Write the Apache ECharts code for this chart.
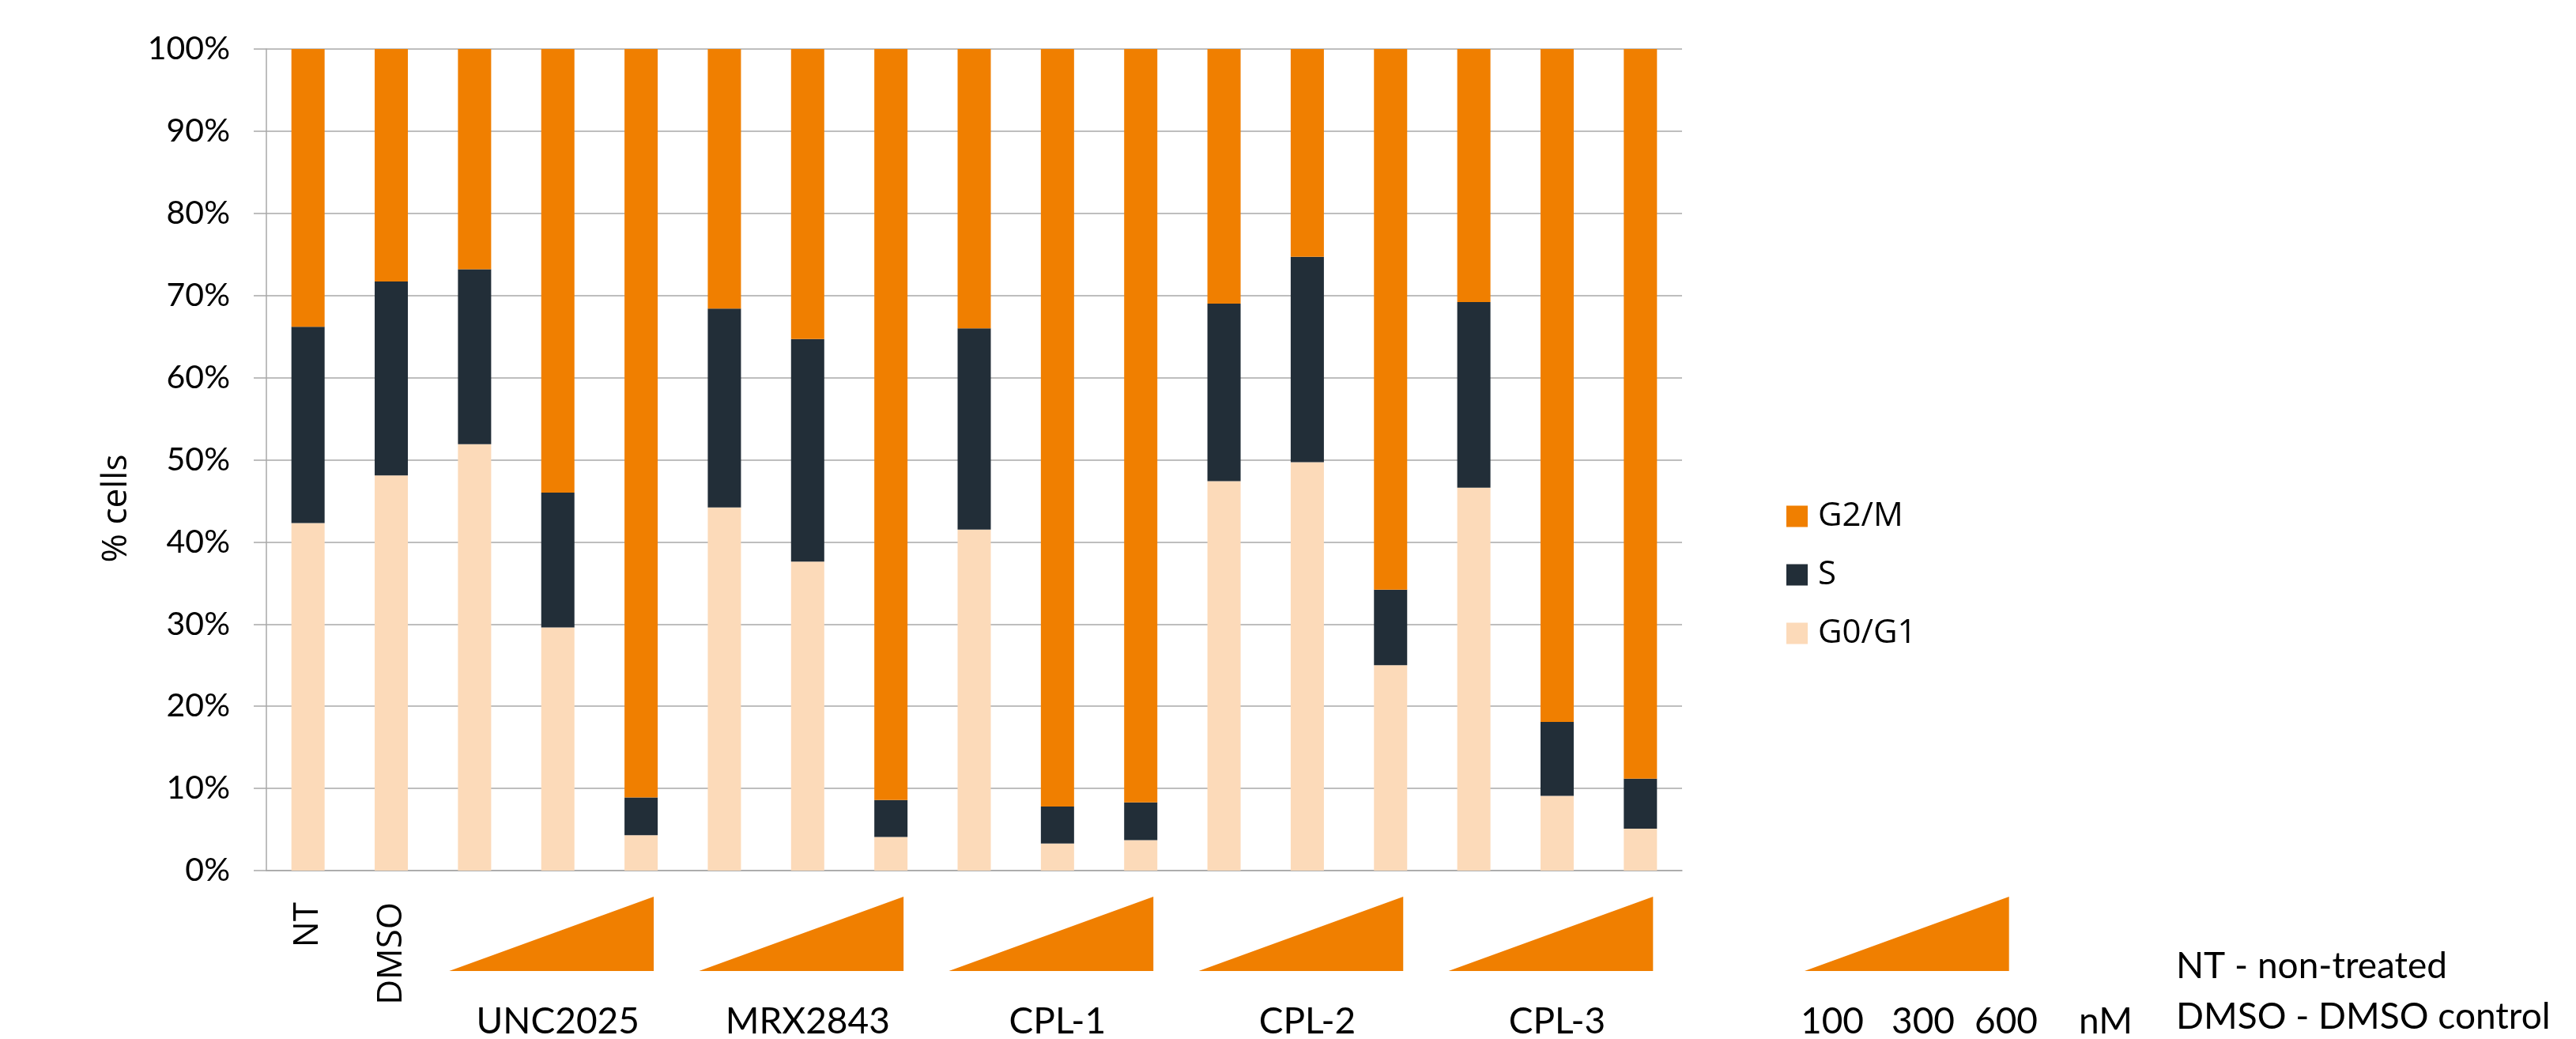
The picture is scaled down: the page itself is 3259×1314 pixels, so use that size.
<!DOCTYPE html>
<html>
<head>
<meta charset="utf-8">
<title>Cell cycle distribution</title>
<script src="https://cdn.jsdelivr.net/npm/echarts@6/dist/echarts.min.js"></script>
<style>
  html, body { margin: 0; padding: 0; background: #ffffff; }
  #chart { width: 3259px; height: 1314px; }
</style>
</head>
<body>
<div id="chart"></div>
<script>
// Treatments, in plotting order
const categories = [
  'NT', 'DMSO',
  'UNC2025 100', 'UNC2025 300', 'UNC2025 600',
  'MRX2843 100', 'MRX2843 300', 'MRX2843 600',
  'CPL-1 100', 'CPL-1 300', 'CPL-1 600',
  'CPL-2 100', 'CPL-2 300', 'CPL-2 600',
  'CPL-3 100', 'CPL-3 300', 'CPL-3 600'
];

// Percentage of cells in each phase
const g0g1 = [42.3, 48.1, 51.9, 29.6, 4.3, 44.2, 37.6, 4.1, 41.5, 3.3, 3.7, 47.4, 49.7, 25.0, 46.6, 9.1, 5.1];
const sPhase = [23.9, 23.6, 21.3, 16.4, 4.6, 24.2, 27.1, 4.5, 24.5, 4.5, 4.6, 21.6, 25.0, 9.2, 22.6, 9.0, 6.1];
const g2m = [33.8, 28.3, 26.8, 54.0, 91.1, 31.6, 35.3, 91.4, 34.0, 92.2, 91.7, 31.0, 25.3, 65.8, 30.8, 81.9, 88.8];

// Labels shown directly under the control bars
const controlLabels = ['NT', 'DMSO'];

// Compound groups: name and first/last category index
const groupNames = ['UNC2025', 'MRX2843', 'CPL-1', 'CPL-2', 'CPL-3'];
const groupFirst = [2, 5, 8, 11, 14];
const groupLast = [4, 7, 10, 13, 16];

// Dose key and abbreviations
const doseLabels = ['100', '300', '600'];
const doseUnit = 'nM';
const notes = ['NT - non-treated', 'DMSO - DMSO control'];

const yTicks = [0, 10, 20, 30, 40, 50, 60, 70, 80, 90, 100];

const COLORS = { g2m: '#F07F00', s: '#222E38', g0g1: '#FCDAB9' };
const GRID_GRAY = '#A8A8A8';
const TICK_FONT = 'Lato';
const LABEL_FONT = 'Open Sans';

const chart = echarts.init(document.getElementById('chart'), null, { renderer: 'canvas' });

const option = {
  animation: false,
  backgroundColor: '#ffffff',
  grid: { left: 337, right: 1131, top: 62, bottom: 213, containLabel: false },
  legend: {
    data: ['G2/M', 'S', 'G0/G1'],
    orient: 'vertical',
    left: 2260,
    top: 631,
    padding: 0,
    itemWidth: 27,
    itemHeight: 27,
    itemGap: 30,
    selectedMode: false,
    icon: 'rect',
    textStyle: {
      fontFamily: LABEL_FONT,
      fontSize: 42,
      lineHeight: 44,
      color: '#000000',
      padding: [0, 0, 0, 8]
    }
  },
  xAxis: {
    type: 'category',
    data: categories,
    axisLine: { show: true, lineStyle: { color: GRID_GRAY, width: 1.5 } },
    axisTick: { show: false },
    axisLabel: {
      interval: 0,
      rotate: 90,
      margin: 40,
      fontFamily: LABEL_FONT,
      fontSize: 44,
      color: '#000000',
      formatter: function (v) {
        return controlLabels.indexOf(v) >= 0 ? v : '';
      }
    }
  },
  yAxis: {
    type: 'value',
    min: yTicks[0],
    max: yTicks[yTicks.length - 1],
    interval: yTicks[1] - yTicks[0],
    axisLine: { show: true, lineStyle: { color: GRID_GRAY, width: 1.5 } },
    axisTick: { show: true, length: 16, lineStyle: { color: GRID_GRAY, width: 1.5 } },
    splitLine: { show: true, lineStyle: { color: GRID_GRAY, width: 1.5 } },
    axisLabel: {
      margin: 46,
      fontFamily: TICK_FONT,
      fontSize: 41,
      color: '#000000',
      formatter: '{value}%'
    }
  },
  series: [
    { name: 'G0/G1', type: 'bar', stack: 'phase', data: g0g1, barWidth: 42,
      itemStyle: { color: COLORS.g0g1 } },
    { name: 'S', type: 'bar', stack: 'phase', data: sPhase, barWidth: 42,
      itemStyle: { color: COLORS.s } },
    { name: 'G2/M', type: 'bar', stack: 'phase', data: g2m, barWidth: 42,
      itemStyle: { color: COLORS.g2m } }
  ]
};

chart.setOption(option);

// Dose triangles and group names under each compound's three bars
const TRI_TOP = 1134, TRI_BOTTOM = 1228;
const GROUP_TEXT_Y = 1292;
const graphics = [];

function xOf(i) {
  return chart.convertToPixel({ xAxisIndex: 0 }, categories[i]);
}

function triangle(x0, x1) {
  return {
    type: 'polygon',
    silent: true,
    shape: { points: [[x0, TRI_BOTTOM], [x1, TRI_BOTTOM], [x1, TRI_TOP]] },
    style: { fill: COLORS.g2m }
  };
}

function label(text, x, y, align, size, family) {
  return {
    type: 'text',
    silent: true,
    x: x, y: y,
    style: {
      text: text,
      fontSize: size,
      fontFamily: family,
      fill: '#000000',
      align: align, textAlign: align,
      verticalAlign: 'middle', textVerticalAlign: 'middle'
    }
  };
}

groupNames.forEach(function (name, g) {
  const first = xOf(groupFirst[g]);
  const last = xOf(groupLast[g]);
  graphics.push(triangle(first - 32, last + 16));
  const mid = xOf(Math.round((groupFirst[g] + groupLast[g]) / 2));
  graphics.push(label(name, mid, GROUP_TEXT_Y, 'center', 46, TICK_FONT));
});

// Dose key to the right of the plot
const step = xOf(1) - xOf(0);
const keyFirst = 2315;
graphics.push(triangle(keyFirst - 32, keyFirst + 2 * step + 16));
const doseX = [2318, 2433, 2538];
doseLabels.forEach(function (d, i) {
  graphics.push(label(d, doseX[i], GROUP_TEXT_Y, 'center', 46, TICK_FONT));
});
graphics.push(label(doseUnit, 2630, GROUP_TEXT_Y, 'left', 46, TICK_FONT));

// Abbreviation notes
graphics.push(label(notes[0], 2753, 1222, 'left', 46, TICK_FONT));
graphics.push(label(notes[1], 2753, 1286, 'left', 46, TICK_FONT));

// Y axis title
const yTitle = label('% cells', 147, 643, 'center', 44, LABEL_FONT);
yTitle.rotation = Math.PI / 2;
graphics.push(yTitle);

chart.setOption({ graphic: graphics });
</script>
</body>
</html>
